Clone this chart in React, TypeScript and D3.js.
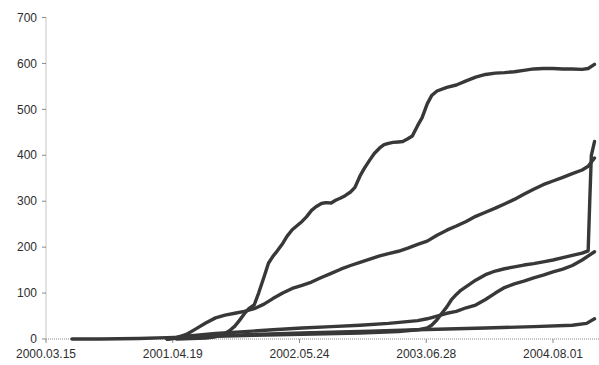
import React from "react";
import * as d3 from "d3";

// Cumulative counts per series: [date, value]
const seriesA: [string, number][] = [
  ["2001-05-01", 0], ["2001-08-01", 2], ["2001-09-01", 5], ["2001-10-01", 12],
  ["2001-10-15", 18], ["2001-11-01", 28], ["2001-11-15", 40], ["2001-12-01", 55],
  ["2001-12-15", 66], ["2002-01-01", 74], ["2002-01-15", 100], ["2002-02-01", 135],
  ["2002-02-15", 165], ["2002-03-01", 180], ["2002-03-15", 192], ["2002-04-01", 208],
  ["2002-04-15", 224], ["2002-05-01", 238], ["2002-05-15", 246], ["2002-06-01", 256],
  ["2002-06-15", 266], ["2002-07-01", 280], ["2002-07-15", 288], ["2002-08-01", 295],
  ["2002-08-15", 297], ["2002-09-01", 296], ["2002-09-15", 302], ["2002-10-01", 307],
  ["2002-10-15", 312], ["2002-11-01", 320], ["2002-11-15", 330], ["2002-12-01", 355],
  ["2002-12-15", 372], ["2003-01-01", 390], ["2003-01-15", 404], ["2003-02-01", 416],
  ["2003-02-15", 423], ["2003-03-01", 426], ["2003-03-15", 428], ["2003-04-01", 429],
  ["2003-04-15", 430], ["2003-05-01", 436], ["2003-05-15", 442], ["2003-06-01", 465],
  ["2003-06-15", 482], ["2003-07-01", 512], ["2003-07-15", 530], ["2003-08-01", 540],
  ["2003-09-01", 548], ["2003-10-01", 553], ["2003-11-01", 562], ["2003-12-01", 570],
  ["2004-01-01", 576], ["2004-02-01", 579], ["2004-03-01", 580], ["2004-04-01", 582],
  ["2004-05-01", 585], ["2004-06-01", 588], ["2004-07-01", 589], ["2004-08-01", 589],
  ["2004-09-01", 588], ["2004-10-01", 588], ["2004-11-01", 587], ["2004-11-20", 589],
  ["2004-12-10", 598],
];

const seriesB: [string, number][] = [
  ["2001-04-01", 0], ["2001-05-01", 3], ["2001-06-01", 10], ["2001-07-01", 22],
  ["2001-08-01", 35], ["2001-09-01", 46], ["2001-10-01", 52], ["2001-11-01", 56],
  ["2001-12-01", 60], ["2002-01-01", 66], ["2002-02-01", 76], ["2002-03-01", 88],
  ["2002-04-01", 100], ["2002-05-01", 110], ["2002-06-01", 117], ["2002-07-01", 124],
  ["2002-08-01", 134], ["2002-09-01", 143], ["2002-10-01", 152], ["2002-11-01", 160],
  ["2002-12-01", 167], ["2003-01-01", 174], ["2003-02-01", 181], ["2003-03-01", 186],
  ["2003-04-01", 191], ["2003-05-01", 198], ["2003-06-01", 206], ["2003-07-01", 213],
  ["2003-08-01", 226], ["2003-09-01", 237], ["2003-10-01", 246], ["2003-11-01", 256],
  ["2003-12-01", 267], ["2004-01-01", 276], ["2004-02-01", 285], ["2004-03-01", 294],
  ["2004-04-01", 304], ["2004-05-01", 315], ["2004-06-01", 326], ["2004-07-01", 336],
  ["2004-08-01", 344], ["2004-09-01", 352], ["2004-10-01", 360], ["2004-11-01", 368],
  ["2004-11-20", 376], ["2004-12-10", 394],
];

const seriesC: [string, number][] = [
  ["2001-04-01", 0], ["2001-06-01", 3], ["2001-09-01", 6], ["2002-01-01", 8],
  ["2002-06-01", 10], ["2002-12-01", 13], ["2003-04-01", 16], ["2003-06-01", 20],
  ["2003-07-01", 24], ["2003-07-15", 30], ["2003-08-01", 42], ["2003-08-15", 55],
  ["2003-09-01", 70], ["2003-09-15", 85], ["2003-10-01", 97], ["2003-10-15", 106],
  ["2003-11-01", 114], ["2003-12-01", 128], ["2004-01-01", 140], ["2004-02-01", 148],
  ["2004-03-01", 153], ["2004-04-01", 157], ["2004-05-01", 161], ["2004-06-01", 164],
  ["2004-07-01", 168], ["2004-08-01", 172], ["2004-09-01", 177], ["2004-10-01", 182],
  ["2004-11-01", 187], ["2004-11-20", 192], ["2004-11-25", 300], ["2004-11-30", 400],
  ["2004-12-10", 430],
];

const seriesD: [string, number][] = [
  ["2001-04-01", 0], ["2001-06-01", 6], ["2001-09-01", 12], ["2001-12-01", 16],
  ["2002-03-01", 20], ["2002-06-01", 24], ["2002-09-01", 27], ["2002-12-01", 30],
  ["2003-03-01", 34], ["2003-06-01", 40], ["2003-07-01", 44], ["2003-08-01", 50],
  ["2003-09-01", 56], ["2003-10-01", 60], ["2003-11-01", 68], ["2003-12-01", 74],
  ["2004-01-01", 86], ["2004-02-01", 100], ["2004-03-01", 112], ["2004-04-01", 120],
  ["2004-05-01", 126], ["2004-06-01", 133], ["2004-07-01", 139], ["2004-08-01", 146],
  ["2004-09-01", 152], ["2004-10-01", 160], ["2004-11-01", 172], ["2004-12-10", 190],
];

const seriesE: [string, number][] = [
  ["2000-06-05", 0], ["2000-09-01", 0], ["2001-01-01", 1], ["2001-04-01", 3],
  ["2001-07-01", 5], ["2001-10-01", 8], ["2002-01-01", 10], ["2002-06-01", 13],
  ["2003-01-01", 17], ["2003-06-01", 20], ["2004-01-01", 24], ["2004-06-01", 27],
  ["2004-10-01", 30], ["2004-11-15", 34], ["2004-12-10", 44],
];

const allSeries = [seriesA, seriesB, seriesC, seriesD, seriesE];

const xTickDates = ["2000-03-15", "2001-04-19", "2002-05-24", "2003-06-28", "2004-08-01"];
const yTickValues = [0, 100, 200, 300, 400, 500, 600, 700];

const W = 599;
const H = 365;
const parse = d3.timeParse("%Y-%m-%d");
const fmt = d3.timeFormat("%Y.%m.%d");

export default function App() {
  const x = d3
    .scaleTime()
    .domain([parse("2000-03-15")!, parse("2004-08-01")!])
    .range([46, 553]);
  const y = d3.scaleLinear().domain([0, 700]).range([339, 17.5]);

  const line = d3
    .line<[string, number]>()
    .x((d) => x(parse(d[0])!))
    .y((d) => y(d[1]));

  const axisColor = "#8a8a8a";
  const textColor = "#2e2e2e";
  const font = "'Liberation Sans', Arial, sans-serif";

  return (
    <svg
      width={W}
      height={H}
      style={{ position: "absolute", left: 0, top: 0, background: "#fff" }}
    >
      {/* y axis */}
      <line x1={46} x2={46} y1={y(700)} y2={y(0)} stroke={axisColor} strokeWidth={1} strokeDasharray="1,1" />
      {yTickValues.map((v) => (
        <g key={v}>
          <line x1={42} x2={46} y1={y(v)} y2={y(v)} stroke={axisColor} strokeWidth={1} />
          <text
            x={37}
            y={y(v)}
            dy="0.35em"
            textAnchor="end"
            fontFamily={font}
            fontSize={12}
            fill={textColor}
          >
            {v}
          </text>
        </g>
      ))}

      {/* x axis */}
      <line x1={46} x2={W} y1={y(0)} y2={y(0)} stroke={axisColor} strokeWidth={1} strokeDasharray="1,1" />
      {xTickDates.map((t) => {
        const px = x(parse(t)!);
        return (
          <g key={t}>
            <line x1={px} x2={px} y1={y(0)} y2={y(0) + 4} stroke={axisColor} strokeWidth={1} />
            <text
              x={px}
              y={358}
              textAnchor="middle"
              fontFamily={font}
              fontSize={12}
              fill={textColor}
            >
              {fmt(parse(t)!)}
            </text>
          </g>
        );
      })}

      {/* series */}
      {allSeries.map((s, i) => (
        <path
          key={i}
          d={line(s) ?? ""}
          fill="none"
          stroke="#383838"
          strokeWidth={3.4}
          strokeLinejoin="round"
          strokeLinecap="round"
        />
      ))}
    </svg>
  );
}
